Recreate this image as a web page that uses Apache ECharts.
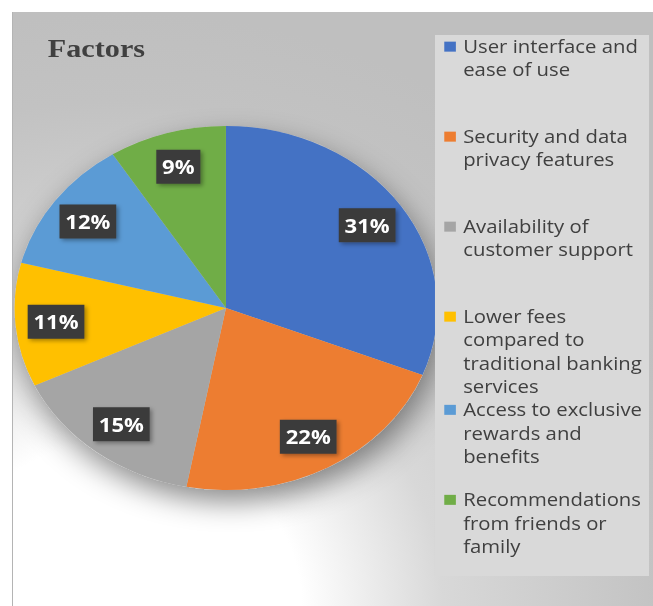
<!DOCTYPE html>
<html>
<head>
<meta charset="utf-8">
<script src="https://cdn.jsdelivr.net/npm/echarts@6/dist/echarts.min.js"></script>
<style>
  html, body { margin: 0; padding: 0; background: #ffffff; }
  #wrap { position: absolute; left: 12px; top: 12px; width: 641px; height: 594px; border-left: 1px solid #b4b4b4; overflow: hidden; }
  #chart { position: absolute; left: 0; top: 0; width: 552px; height: 594px; transform: scaleX(1.1612); transform-origin: 0 0; }
</style>
</head>
<body>
<div id="wrap"><div id="chart"></div></div>
<script>
const titleText = 'Factors';
const categories = [
  'User interface and ease of use',
  'Security and data privacy features',
  'Availability of customer support',
  'Lower fees compared to traditional banking services',
  'Access to exclusive rewards and benefits',
  'Recommendations from friends or family'
];
const values = [31, 22, 15, 11, 12, 9];
const colors = ['#4472C4', '#ED7D31', '#A5A5A5', '#FFC000', '#5B9BD5', '#70AD47'];
const legendLines = [
  ['User interface and', 'ease of use'],
  ['Security and data', 'privacy features'],
  ['Availability of', 'customer support'],
  ['Lower fees', 'compared to', 'traditional banking', 'services'],
  ['Access to exclusive', 'rewards and', 'benefits'],
  ['Recommendations', 'from friends or', 'family']
];

const LH = 23.3;
const SLOT = 90;
const total = values.reduce((a, b) => a + b, 0);

const rich = {
  t: { fontFamily: 'Open Sans', fontSize: 17.5, color: '#404040', lineHeight: LH },
  s: { width: 6.3, lineHeight: LH },
  ind: { width: 16.3, lineHeight: LH }
};
categories.forEach((c, i) => {
  rich['c' + i] = { width: 10, height: 10, backgroundColor: colors[i], lineHeight: LH };
  const gap = Math.max(0, SLOT - legendLines[i].length * LH);
  rich['g' + i] = { lineHeight: gap, fontSize: 1 };
});

function legendFormatter(name) {
  const i = categories.indexOf(name);
  const lines = legendLines[i];
  let out = lines.map((l, j) => j === 0 ? '{c' + i + '|}{s|}{t|' + l + '}' : '{ind|}{t|' + l + '}').join('\n');
  const gap = SLOT - lines.length * LH;
  if (i < categories.length - 1 && gap > 0.5) out += '\n{g' + i + '| }';
  return out;
}

const pieData = categories.map((c, i) => ({ name: c, value: values[i], itemStyle: { color: colors[i] } }));
const center = [183.4, 296];
const R = 182;

const chart = echarts.init(document.getElementById('chart'), null, { renderer: 'svg' });
chart.setOption({
  animation: false,
  backgroundColor: new echarts.graphic.RadialGradient(0.17, 1.0, 1.0, [
    { offset: 0, color: '#ffffff' },
    { offset: 0.28, color: '#ffffff' },
    { offset: 0.5, color: '#d8d8d8' },
    { offset: 0.85, color: '#c2c2c2' },
    { offset: 1, color: '#bfbfbf' }
  ]),
  title: {
    text: titleText,
    left: 30,
    top: 23,
    padding: 0,
    textStyle: { fontFamily: 'Liberation Serif', fontWeight: 'bold', fontSize: 26, color: '#404040' }
  },
  legend: {
    orient: 'vertical',
    left: 363.4,
    top: 23,
    padding: [0, 6, 18, 3],
    backgroundColor: '#d9d9d9',
    itemGap: 0,
    itemWidth: 0,
    itemHeight: 0,
    selectedMode: false,
    data: categories,
    formatter: legendFormatter,
    textStyle: { rich: rich, lineHeight: LH, fontFamily: 'Open Sans', fontSize: 17.5, color: '#404040' }
  },
  series: [
    {
      type: 'pie',
      name: 'shadow',
      silent: true,
      z: 1,
      center: center,
      radius: [0, R],
      label: { show: false },
      labelLine: { show: false },
      data: [{ name: '_shadow', value: total }],
      itemStyle: { color: '#c8c8c8', shadowBlur: 28, shadowColor: 'rgba(0,0,0,0.45)', shadowOffsetX: 4, shadowOffsetY: 12 }
    },
    {
      type: 'pie',
      name: 'Factors',
      z: 2,
      center: center,
      radius: [0, R],
      startAngle: 90,
      clockwise: true,
      label: { show: false },
      labelLine: { show: false },
      emphasis: { disabled: true },
      itemStyle: { borderWidth: 0 },
      data: pieData
    },
    {
      type: 'pie',
      name: 'labels',
      silent: true,
      z: 3,
      center: center,
      radius: [106, R],
      startAngle: 90,
      clockwise: true,
      percentPrecision: 0,
      itemStyle: { color: 'rgba(0,0,0,0)' },
      emphasis: { disabled: true },
      labelLine: { show: false },
      label: {
        show: true,
        position: 'inside',
        formatter: '{d}%',
        color: '#ffffff',
        fontFamily: 'Open Sans',
        fontWeight: 'bold',
        fontSize: 19,
        lineHeight: 19,
        backgroundColor: '#3b3b3b',
        padding: [8, 5, 7, 5],
        shadowBlur: 4,
        shadowOffsetX: 2,
        shadowOffsetY: 2,
        shadowColor: 'rgba(0,0,0,0.35)'
      },
      data: categories.map((c, i) => ({ name: c, value: values[i] }))
    }
  ]
});
</script>
</body>
</html>
